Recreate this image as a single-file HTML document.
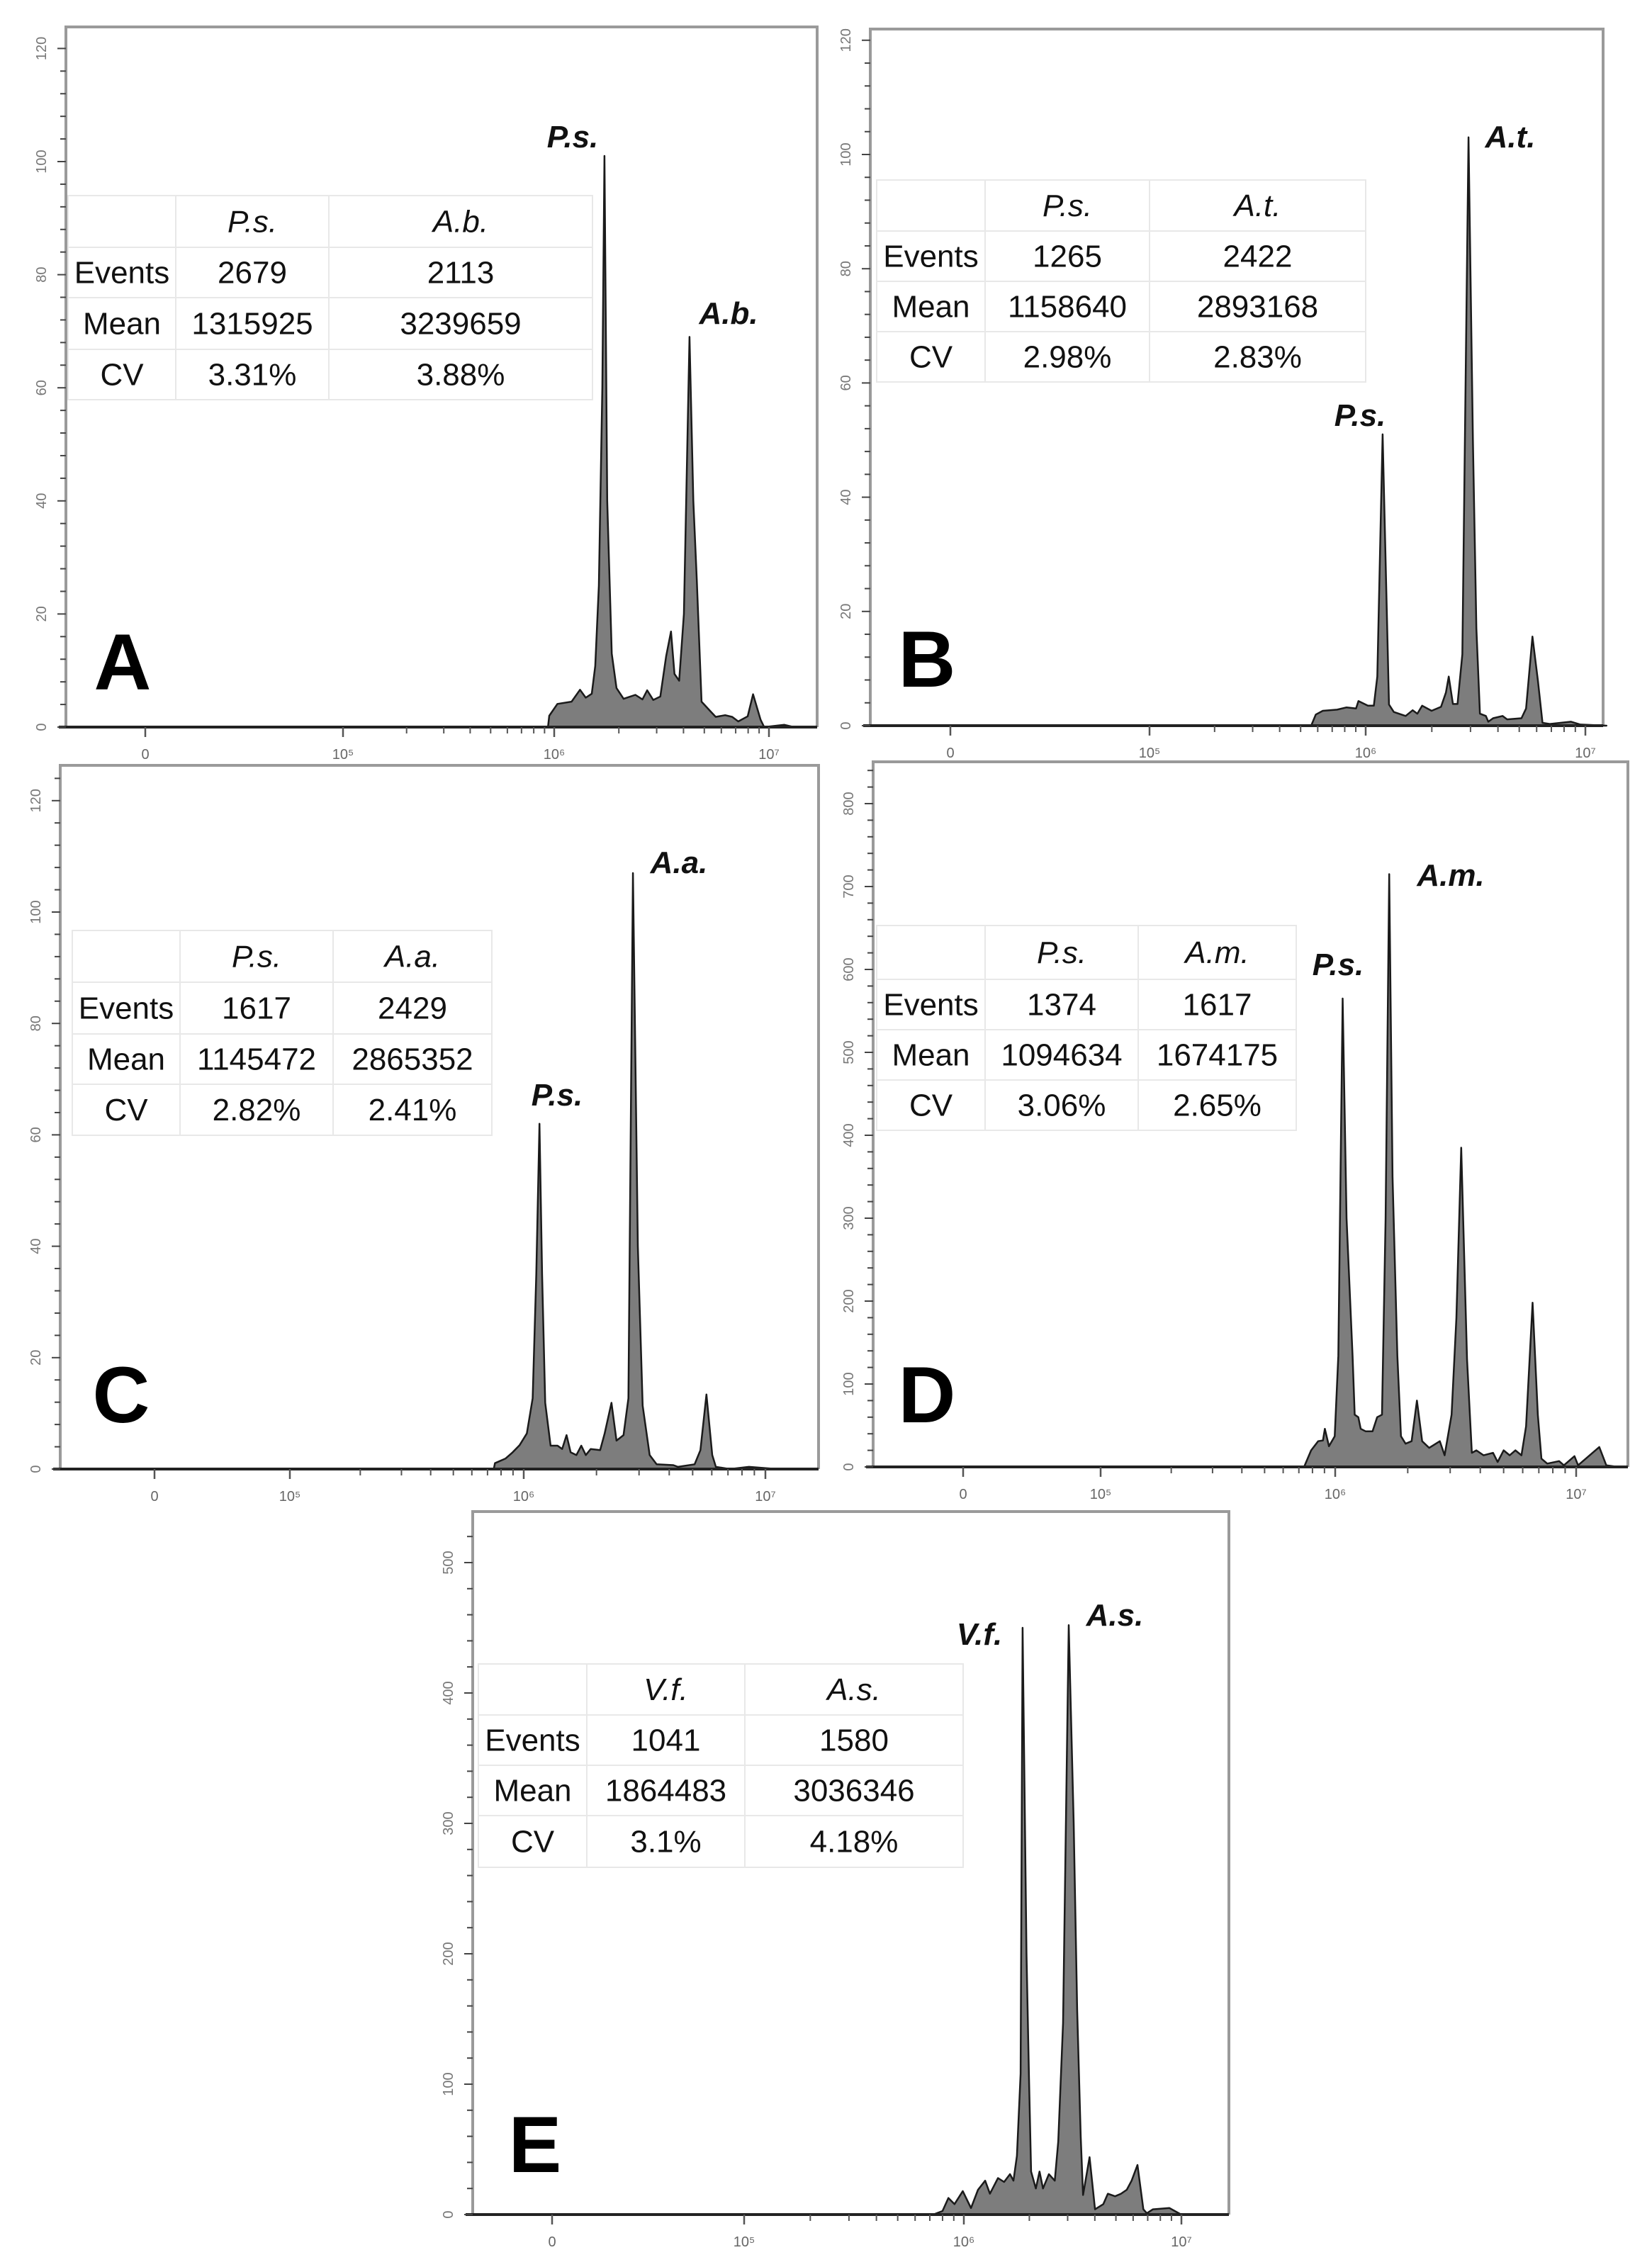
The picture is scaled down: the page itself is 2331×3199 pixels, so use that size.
<!DOCTYPE html>
<html><head><meta charset="utf-8">
<style>
html,body{margin:0;padding:0;background:#fff;}
svg{display:block;}
text{font-family:"Liberation Sans",Arial,sans-serif;}
.tbl{font-family:"Liberation Sans",Arial,sans-serif;font-size:44px;fill:#111;}
</style></head>
<body>
<svg id="fig" width="2331" height="3199" viewBox="0 0 2331 3199" xmlns="http://www.w3.org/2000/svg"></svg>
<script>
// ---------- data: histogram points (log10 fluorescence, event count) ----------
const aLog=[5.971,5.977,6.015,6.081,6.120,6.147,6.175,6.191,6.208,6.224,6.234,6.247,6.268,6.290,6.323,6.378,6.411,6.433,6.461,6.494,6.521,6.544,6.560,6.582,6.604,6.630,6.648,6.664,6.686,6.730,6.752,6.796,6.829,6.857,6.901,6.926,6.961,6.978,7.072,7.116];
const aCount=[0,2,4.1,4.5,6.6,5.2,5.9,10.8,25,60,101,40,13,6.9,5.0,5.7,4.9,6.5,4.8,5.4,12.5,16.9,9.4,8.2,20,69,40,26,4.5,2.7,1.8,2.1,1.8,1.0,1.9,5.8,1.3,0,0.4,0];
const bLog=[5.752,5.773,5.805,5.870,5.913,5.956,5.967,6.010,6.037,6.053,6.077,6.096,6.106,6.128,6.182,6.214,6.235,6.257,6.300,6.343,6.365,6.378,6.397,6.418,6.440,6.468,6.488,6.504,6.520,6.547,6.558,6.580,6.623,6.644,6.709,6.730,6.759,6.784,6.805,6.838,6.935,6.977,7.096];
const bCount=[0,1.95,2.6,2.8,3.2,3.0,4.3,3.5,3.5,8.6,51,20,3.7,2.4,1.7,2.7,2.1,3.5,2.6,3.3,5.8,8.6,3.8,3.8,12.5,103,50,17,2.1,1.7,0.7,1.3,1.7,1.1,1.3,3,15.6,7.9,0.5,0.3,0.7,0.2,0];
const cLog=[5.876,5.881,5.925,5.954,5.983,6.013,6.037,6.052,6.065,6.076,6.089,6.111,6.140,6.159,6.177,6.194,6.218,6.238,6.257,6.277,6.316,6.335,6.363,6.384,6.413,6.433,6.452,6.472,6.492,6.521,6.550,6.619,6.638,6.707,6.731,6.756,6.780,6.795,6.853,6.932,7.049];
const cCount=[0,1.06,1.9,3.0,4.3,6.4,12.7,35,62,35,11.9,4.2,4.2,3.6,6.1,3.0,2.5,4.2,2.5,3.6,3.4,6.4,11.9,5.1,6.1,12.7,107,40,11.4,2.5,0.85,0.7,0.4,0.85,3.4,13.4,2.5,0.4,0,0.4,0];
const dLog=[5.871,5.900,5.929,5.949,5.957,5.974,5.998,6.013,6.031,6.047,6.072,6.081,6.096,6.106,6.126,6.155,6.174,6.194,6.209,6.224,6.238,6.258,6.273,6.292,6.317,6.339,6.361,6.390,6.434,6.454,6.483,6.503,6.523,6.547,6.567,6.586,6.616,6.655,6.674,6.699,6.724,6.748,6.773,6.792,6.819,6.841,6.856,6.880,6.929,6.949,6.993,7.008,7.096,7.125,7.174];
const dCount=[0,20,31,32,46,25,37,134,565,300,134,63,60,46,43,43,60,63,300,715,350,134,37,28,31,80,31,23,31,14,63,180,385,130,17,20,14,17,6,20,14,20,14,49,198,63,10,4,7,2,13,2,24,2,0];
const eLog=[5.859,5.902,5.929,5.957,5.995,6.033,6.065,6.098,6.120,6.157,6.185,6.212,6.228,6.244,6.261,6.270,6.288,6.299,6.309,6.331,6.348,6.364,6.391,6.418,6.434,6.456,6.482,6.505,6.521,6.537,6.548,6.578,6.603,6.641,6.662,6.695,6.722,6.749,6.771,6.798,6.825,6.841,6.869,6.945,6.999];
const eCount=[0,2.7,12.7,8,18,5,19,26,16,28,25,31,26,45,108,450,200,108,33,20,33,20,31,26,56,147,452,300,157,60,15,44,4,8,16,14,16,19,26,38,4,1,4,5,0];
// ---------- y tick labels ----------
const ticksSmall=[0,20,40,60,80,100,120];
const ticksD=[0,100,200,300,400,500,600,700,800];
const ticksE=[0,100,200,300,400,500];
const xTickLabels=["0","10\u2075","10\u2076","10\u2077"];
// ---------- tables ----------
const tblA=[["","P.s.","A.b."],["Events","2679","2113"],["Mean","1315925","3239659"],["CV","3.31%","3.88%"]];
const tblB=[["","P.s.","A.t."],["Events","1265","2422"],["Mean","1158640","2893168"],["CV","2.98%","2.83%"]];
const tblC=[["","P.s.","A.a."],["Events","1617","2429"],["Mean","1145472","2865352"],["CV","2.82%","2.41%"]];
const tblD=[["","P.s.","A.m."],["Events","1374","1617"],["Mean","1094634","1674175"],["CV","3.06%","2.65%"]];
const tblE=[["","V.f.","A.s."],["Events","1041","1580"],["Mean","1864483","3036346"],["CV","3.1%","4.18%"]];

const NS="http://www.w3.org/2000/svg";
const fig=document.getElementById('fig');
function mk(tag,attrs,parent,txt){const e=document.createElementNS(NS,tag);for(const k in attrs)e.setAttribute(k,attrs[k]);if(txt!==undefined)e.textContent=txt;(parent||fig).appendChild(e);return e;}

const panels=[
 {id:'a',L:93,T:38,R:1153,B:1026,ppu:7.98,ticks:ticksSmall,minor:4,x0:205,x5:484,x6:782,x7:1085,logs:aLog,counts:aCount,tbl:tblA,
  tb:{l:96,cols:[248,464,836],rows:[276,349,420,493,564]},letter:'A',lx:173,ly:973,
  labels:[['P.s.',808,208],['A.b.',1028,457]]},
 {id:'b',L:1228,T:41,R:2262,B:1024,ppu:8.06,ticks:ticksSmall,minor:4,x0:1341,x5:1622,x6:1927,x7:2237,logs:bLog,counts:bCount,tbl:tblB,
  tb:{l:1237,cols:[1390,1622,1927],rows:[254,326,397,468,539]},letter:'B',lx:1308,ly:969,
  labels:[['A.t.',2131,208],['P.s.',1919,601]]},
 {id:'c',L:85,T:1080,R:1155,B:2073,ppu:7.86,ticks:ticksSmall,minor:4,x0:218,x5:409,x6:739,x7:1080,logs:cLog,counts:cCount,tbl:tblC,
  tb:{l:102,cols:[254,470,694],rows:[1313,1386,1459,1530,1602]},letter:'C',lx:171,ly:2007,
  labels:[['A.a.',958,1232],['P.s.',786,1560]]},
 {id:'d',L:1232,T:1075,R:2297,B:2070,ppu:1.17,ticks:ticksD,minor:20,x0:1359,x5:1553,x6:1884,x7:2224,logs:dLog,counts:dCount,tbl:tblD,
  tb:{l:1237,cols:[1390,1606,1829],rows:[1306,1382,1453,1524,1595]},letter:'D',lx:1308,ly:2007,
  labels:[['A.m.',2047,1250],['P.s.',1888,1376]]},
 {id:'e',L:667,T:2133,R:1734,B:3125,ppu:1.84,ticks:ticksE,minor:20,x0:779,x5:1050,x6:1360,x7:1667,logs:eLog,counts:eCount,tbl:tblE,
  tb:{l:675,cols:[828,1051,1359],rows:[2348,2420,2491,2562,2635]},letter:'E',lx:755,ly:3065,
  labels:[['V.f.',1382,2321],['A.s.',1573,2294]]}
];

panels.forEach(p=>{
  const g=mk('g',{});
  
  
  const xs=v=>p.x6+(v-6)*(p.x7-p.x6);
  const ys=c=>p.B-c*p.ppu;
  // frame
  const fr=mk('path',{d:`M${p.L},${p.B} L${p.L},${p.T} L${p.R},${p.T} L${p.R},${p.B}`,fill:'none',stroke:'#9a9a9a','stroke-width':4},g);
  
  
  // histogram
  let d=`M${xs(p.logs[0])},${p.B}`;
  for(let i=0;i<p.logs.length;i++)d+=` L${xs(p.logs[i]).toFixed(1)},${ys(p.counts[i]).toFixed(1)}`;
  d+=` L${xs(p.logs[p.logs.length-1]).toFixed(1)},${p.B} Z`;
  const h=mk('path',{d:d,fill:'#7d7d7d',stroke:'#1a1a1a','stroke-width':2.5,'stroke-linejoin':'round'},g);
  
  
  // x axis
  const xa=mk('line',{x1:p.L-10,y1:p.B,x2:p.R,y2:p.B,stroke:'#222','stroke-width':4},g);
  
  
  const majors=[p.x0,p.x5,p.x6,p.x7];
  majors.forEach((x,i)=>{
    mk('line',{x1:x,y1:p.B,x2:x,y2:p.B+14,stroke:'#555','stroke-width':2.5},g);
    const t=mk('text',{x:x,y:p.B+45,'font-size':20,fill:'#666','text-anchor':'middle'},g,xTickLabels[i]);
    
    
  });
  for(let k=2;k<=9;k++){
    [[p.x5,p.x6],[p.x6,p.x7]].forEach(([a,b])=>{const x=a+Math.log10(k)*(b-a);mk('line',{x1:x,y1:p.B,x2:x,y2:p.B+9,stroke:'#555','stroke-width':2},g);});
  }
  // y axis ticks
  const maxT=p.ticks[p.ticks.length-1];
  for(let v=0;v<=maxT+p.minor*2;v+=p.minor){
    const y=ys(v); if(y<p.T+4)break;
    const major=p.ticks.indexOf(v)>=0;
    mk('line',{x1:p.L-(major?12:8),y1:y,x2:p.L,y2:y,stroke:'#444','stroke-width':2},g);
  }
  p.ticks.forEach(v=>{
    const y=ys(v);
    const t=mk('text',{x:p.L-28,y:y,'font-size':20,fill:'#777','text-anchor':'middle',transform:`rotate(-90 ${p.L-28} ${y})`},g,String(v));
    
    
  });
  // table
  const tg=mk('g',{},g);
  
  
  const tb=p.tb, xsC=[tb.l].concat(tb.cols);
  mk('rect',{x:tb.l,y:tb.rows[0],width:tb.cols[2]-tb.l,height:tb.rows[4]-tb.rows[0],fill:'#fff',stroke:'#e8e8e8','stroke-width':2},tg);
  tb.rows.slice(1,4).forEach(y=>mk('line',{x1:tb.l,y1:y,x2:tb.cols[2],y2:y,stroke:'#e8e8e8','stroke-width':2},tg));
  tb.cols.slice(0,2).forEach(x=>mk('line',{x1:x,y1:tb.rows[0],x2:x,y2:tb.rows[4],stroke:'#e8e8e8','stroke-width':2},tg));
  p.tbl.forEach((row,r)=>row.forEach((c,ci)=>{
    if(!c)return;
    const cx=(xsC[ci]+xsC[ci+1])/2, cy=(tb.rows[r]+tb.rows[r+1])/2+15;
    const t=mk('text',{x:cx,y:cy,'text-anchor':'middle',class:'tbl','font-style':r===0?'italic':'normal'},tg,c);
    
    
  }));
  // peak labels
  p.labels.forEach(([s,x,y])=>{
    const t=mk('text',{x:x,y:y,'text-anchor':'middle','font-size':44,'font-weight':'bold','font-style':'italic',fill:'#111'},g,s);
    
    
  });
  // panel letter
  const L=mk('text',{x:p.lx,y:p.ly,'text-anchor':'middle','font-size':112,'font-weight':'bold',fill:'#000'},g,p.letter);
  
  
});
</script>
</body></html>
